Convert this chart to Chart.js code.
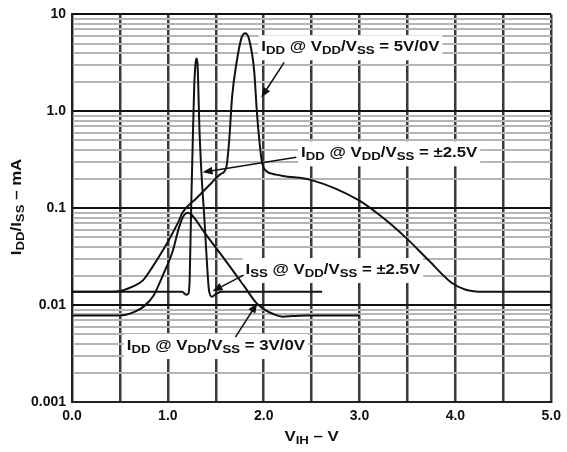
<!DOCTYPE html>
<html lang="en">
<head>
<meta charset="UTF-8">
<title>IDD/ISS vs VIH</title>
<script src="https://cdn.jsdelivr.net/npm/chart.js"></script>
<style>
  html, body { margin: 0; padding: 0; background: #fff; }
  #wrap { width: 567px; height: 452px; }
</style>
</head>
<body>
<div id="wrap"><canvas id="supplyChart"></canvas></div>
<script>
// values: V_IH in volts, current in mA
const vih5V = [0, 0.3, 0.5, 0.63, 0.74, 0.84, 0.95, 1.05, 1.12, 1.15, 1.3, 1.45, 1.55, 1.61, 1.64, 1.67, 1.715, 1.77, 1.81, 1.85, 1.9, 1.93, 1.965, 1.985, 2.04, 2.08, 2.13, 2.2, 2.5, 2.99, 3.27, 3.48, 3.72, 3.96, 4.1, 4.3, 5.0];
const idd5V = [0.0137, 0.0137, 0.014, 0.0155, 0.018, 0.0248, 0.037, 0.0556, 0.0757, 0.089, 0.127, 0.18, 0.225, 0.265, 0.5, 1.4, 3.1, 5.8, 6.4, 5.4, 2.65, 0.95, 0.4, 0.29, 0.236, 0.228, 0.222, 0.215, 0.195, 0.121, 0.076, 0.05, 0.029, 0.017, 0.0145, 0.0137, 0.0137];

const vihPm25 = [0, 1.15, 1.19, 1.21, 1.225, 1.235, 1.245, 1.26, 1.275, 1.29, 1.3, 1.31, 1.33, 1.35, 1.38, 1.4, 1.43, 1.46, 1.5, 1.56, 2.61];
const iPm25 = [0.0137, 0.0137, 0.0128, 0.013, 0.016, 0.04, 0.12, 0.5, 1.8, 3.2, 3.5, 3.0, 0.64, 0.235, 0.081, 0.037, 0.014, 0.0122, 0.013, 0.0137, 0.0137];

const vih3V = [0, 0.4, 0.55, 0.65, 0.75, 0.85, 0.95, 1.05, 1.12, 1.17, 1.21, 1.25, 1.4, 1.6, 1.8, 1.92, 2.0, 2.1, 2.2, 2.3, 2.45, 3.0];
const idd3V = [0.0078, 0.0078, 0.0079, 0.0085, 0.0097, 0.0125, 0.0205, 0.036, 0.065, 0.085, 0.09, 0.085, 0.053, 0.029, 0.0155, 0.0106, 0.0091, 0.0081, 0.0076, 0.0077, 0.0078, 0.0078];

const xTickLabels = ['0.0', '1.0', '2.0', '3.0', '4.0', '5.0'];
const yTickLabels = ['0.001', '0.01', '0.1', '1.0', '10'];
const decades = [0.001, 0.01, 0.1, 1, 10];

const FAMILY = "'Liberation Sans', Arial, Helvetica, sans-serif";
const MAIN_FONT = 'bold 14px ' + FAMILY;
const SUB_FONT = 'bold 11px ' + FAMILY;
const STRETCH = 1.2;

// grid lines at 1..9 of every decade
const yGridValues = decades.slice(0, -1)
    .flatMap(d => [1, 2, 3, 4, 5, 6, 7, 8, 9].map(m => m * d))
    .concat([10]);

const isDecade = v => decades.some(d => Math.abs(v / d - 1) < 1e-6);

// callouts, positions in data units (volts, mA)
const callouts = [
    { text: 'I_{DD} @ V_{DD}/V_{SS} = 5V/0V', at: [1.975, 4.57], from: [2.214, 3.2], to: [1.975, 1.39] },
    { text: 'I_{DD} @ V_{DD}/V_{SS} = ±2.5V', at: [2.39, 0.369], from: [2.34, 0.336], to: [1.362, 0.235] },
    { text: 'I_{SS} @ V_{DD}/V_{SS} = ±2.5V', at: [1.81, 0.023], from: [1.79, 0.0204], to: [1.466, 0.0139] },
    { text: 'I_{DD} @ V_{DD}/V_{SS} = 3V/0V', at: [0.572, 0.00378], from: [1.705, 0.00468], to: [1.933, 0.0105] }
];

function parseRich(str) {
    const parts = [];
    const re = /_\{([^}]*)\}/g;
    let last = 0, m;
    while ((m = re.exec(str))) {
        if (m.index > last) parts.push({ t: str.slice(last, m.index), sub: false });
        parts.push({ t: m[1], sub: true });
        last = re.lastIndex;
    }
    if (last < str.length) parts.push({ t: str.slice(last), sub: false });
    return parts;
}

function richWidth(ctx, parts) {
    let w = 0;
    parts.forEach(p => {
        ctx.font = p.sub ? SUB_FONT : MAIN_FONT;
        w += ctx.measureText(p.t).width;
    });
    return w * STRETCH;
}

// x = left edge, y = middle of the main text
function drawRich(ctx, parts, x, y) {
    ctx.save();
    ctx.translate(x, y);
    ctx.scale(STRETCH, 1);
    ctx.textBaseline = 'middle';
    ctx.textAlign = 'left';
    ctx.fillStyle = '#111';
    let cx = 0;
    parts.forEach(p => {
        ctx.font = p.sub ? SUB_FONT : MAIN_FONT;
        ctx.fillText(p.t, cx, p.sub ? 4 : 0);
        cx += ctx.measureText(p.t).width;
    });
    ctx.restore();
}

function drawArrow(ctx, fx, fy, tx, ty) {
    const a = Math.atan2(ty - fy, tx - fx);
    const len = 10, half = 4;
    ctx.save();
    ctx.strokeStyle = '#111';
    ctx.fillStyle = '#111';
    ctx.lineWidth = 1.5;
    ctx.beginPath();
    ctx.moveTo(fx, fy);
    ctx.lineTo(tx - Math.cos(a) * len * 0.8, ty - Math.sin(a) * len * 0.8);
    ctx.stroke();
    ctx.beginPath();
    ctx.moveTo(tx, ty);
    ctx.lineTo(tx - Math.cos(a) * len - Math.sin(a) * half, ty - Math.sin(a) * len + Math.cos(a) * half);
    ctx.lineTo(tx - Math.cos(a) * len + Math.sin(a) * half, ty - Math.sin(a) * len - Math.cos(a) * half);
    ctx.closePath();
    ctx.fill();
    ctx.restore();
}

const calloutPlugin = {
    id: 'callouts',
    afterDatasetsDraw(chart) {
        const { ctx, scales: { x, y } } = chart;
        callouts.forEach(c => {
            const parts = parseRich(c.text);
            const px = x.getPixelForValue(c.at[0]);
            const py = y.getPixelForValue(c.at[1]);
            const w = richWidth(ctx, parts);
            ctx.fillStyle = '#fff';
            ctx.fillRect(px - 3, py - 12, w + 6, 25);
            drawRich(ctx, parts, px, py);
            drawArrow(ctx, x.getPixelForValue(c.from[0]), y.getPixelForValue(c.from[1]),
                x.getPixelForValue(c.to[0]), y.getPixelForValue(c.to[1]));
        });
    },
    afterDraw(chart) {
        const { ctx, chartArea } = chart;
        // axis titles (need subscripts, so drawn by hand)
        const xt = parseRich('V_{IH} – V');
        const xw = richWidth(ctx, xt);
        drawRich(ctx, xt, (chartArea.left + chartArea.right) / 2 - xw / 2 + 0, 437);

        const yt = parseRich('I_{DD}/I_{SS} – mA');
        const yw = richWidth(ctx, yt);
        ctx.save();
        ctx.translate(17, 207);
        ctx.rotate(-Math.PI / 2);
        drawRich(ctx, yt, -yw / 2, 0);
        ctx.restore();
    }
};

const toPoints = (xs, ys) => xs.map((v, i) => ({ x: v, y: ys[i] }));
const lineStyle = {
    borderColor: '#111',
    borderWidth: 2,
    pointRadius: 0,
    fill: false,
    cubicInterpolationMode: 'monotone'
};

new Chart(document.getElementById('supplyChart'), {
    type: 'line',
    data: {
        datasets: [
            Object.assign({ label: 'IDD 5V/0V', data: toPoints(vih5V, idd5V) }, lineStyle),
            Object.assign({ label: 'IDD/ISS ±2.5V', data: toPoints(vihPm25, iPm25) }, lineStyle),
            Object.assign({ label: 'IDD 3V/0V', data: toPoints(vih3V, idd3V) }, lineStyle)
        ]
    },
    options: {
        responsive: true,
        maintainAspectRatio: false,
        animation: false,
        layout: { padding: { top: 14, right: 14, left: 0, bottom: 0 } },
        plugins: {
            legend: { display: false },
            tooltip: { enabled: false }
        },
        scales: {
            x: {
                type: 'linear',
                min: 0,
                max: 5,
                afterFit: s => { s.height = 50; },
                border: { display: true, color: '#222', width: 2 },
                grid: { color: '#3a3a3a', lineWidth: 2.5, drawTicks: false },
                ticks: {
                    stepSize: 0.5,
                    autoSkip: false,
                    maxRotation: 0,
                    padding: 6,
                    color: '#111',
                    font: { family: FAMILY, size: 14, weight: 'bold' },
                    callback: v => Number.isInteger(v) ? xTickLabels[v] : ''
                }
            },
            y: {
                type: 'logarithmic',
                min: 0.001,
                max: 10,
                afterFit: s => { s.width = 72; },
                afterBuildTicks: s => { s.ticks = yGridValues.map(v => ({ value: v, major: isDecade(v) })); },
                border: { display: true, color: '#222', width: 2 },
                grid: {
                    drawTicks: false,
                    color: c => isDecade(c.tick.value) ? '#111' : '#b5b5b5',
                    lineWidth: c => isDecade(c.tick.value) ? 2 : 2
                },
                ticks: {
                    autoSkip: false,
                    padding: 6,
                    color: '#111',
                    font: { family: FAMILY, size: 14, weight: 'bold' },
                    callback: v => {
                        const i = decades.findIndex(d => Math.abs(v / d - 1) < 1e-6);
                        return i >= 0 ? yTickLabels[i] : '';
                    }
                }
            }
        }
    },
    plugins: [calloutPlugin]
});
</script>
</body>
</html>
